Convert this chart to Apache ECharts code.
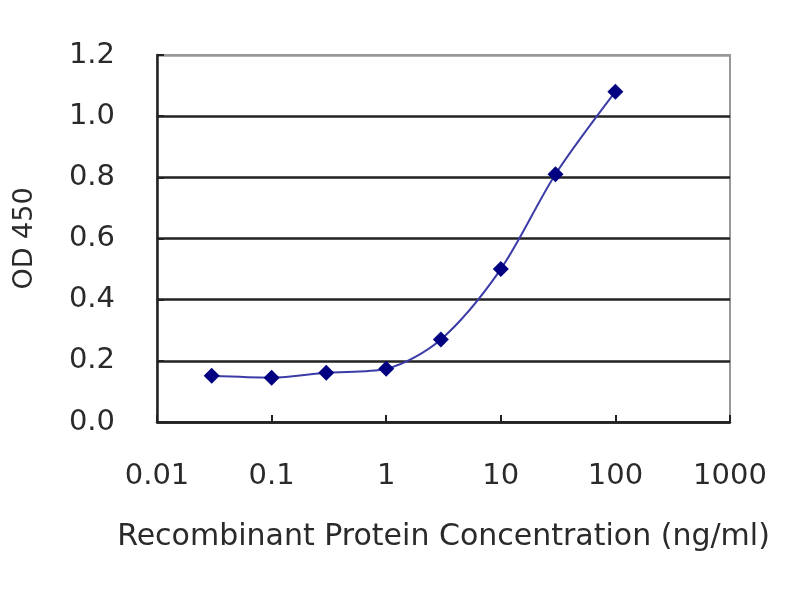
<!DOCTYPE html>
<html>
<head>
<meta charset="utf-8">
<script src="https://cdn.jsdelivr.net/npm/echarts@6/dist/echarts.min.js"></script>
<style>
  html, body { margin: 0; padding: 0; background: #fff; }
  #main { width: 800px; height: 600px; }
</style>
</head>
<body>
<div id="main"></div>
<script>
// concentrations (ng/ml) and OD 450 readings
var concentration = [0.03, 0.1, 0.3, 1, 3, 10, 30, 100];
var od450 = [0.151, 0.145, 0.161, 0.174, 0.27, 0.50, 0.81, 1.08];

var chart = echarts.init(document.getElementById('main'));

var points = concentration.map(function (c, i) { return [c, od450[i]]; });

var font = 'DejaVu Sans, Arial, sans-serif';

chart.setOption({
    animation: false,
    backgroundColor: '#fff',
    grid: {
        left: 157,
        right: 70,
        top: 55,
        bottom: 178,
        show: true,
        borderColor: '#999',
        borderWidth: 2,
        backgroundColor: '#fff'
    },
    xAxis: {
        type: 'log',
        logBase: 10,
        min: 0.01,
        max: 1000,
        name: 'Recombinant Protein Concentration (ng/ml)',
        nameLocation: 'middle',
        nameGap: 100,
        nameTextStyle: { fontFamily: font, fontSize: 30, color: '#2a2a2a' },
        axisLine: { lineStyle: { color: '#222', width: 2.5 } },
        axisTick: { inside: true, length: 7, lineStyle: { color: '#222', width: 2 } },
        splitLine: { show: false },
        minorTick: { show: false },
        axisLabel: {
            fontFamily: font, fontSize: 29, color: '#2a2a2a', margin: 40,
            formatter: function (v) { return String(+v.toPrecision(6)); }
        }
    },
    yAxis: {
        type: 'value',
        min: 0,
        max: 1.2,
        interval: 0.2,
        name: 'OD 450',
        nameLocation: 'middle',
        nameGap: 119,
        nameTextStyle: { fontFamily: font, fontSize: 27, color: '#2a2a2a' },
        axisLine: { show: true, lineStyle: { color: '#222', width: 2.5 } },
        axisTick: { show: true, inside: true, length: 7, lineStyle: { color: '#222', width: 2 } },
        splitLine: {
            show: true,
            lineStyle: { color: ['#222', '#222', '#222', '#222', '#222', '#222', '#999'], width: 2.5 }
        },
        axisLabel: {
            fontFamily: font, fontSize: 29, color: '#2a2a2a', margin: 42,
            formatter: function (v) { return v.toFixed(1); }
        }
    },
    series: [{
        type: 'line',
        data: points,
        smooth: 0.3,
        symbol: 'diamond',
        symbolSize: 16,
        itemStyle: { color: '#000080' },
        lineStyle: { color: '#3c3ca8', width: 2 }
    }]
});
</script>
</body>
</html>
